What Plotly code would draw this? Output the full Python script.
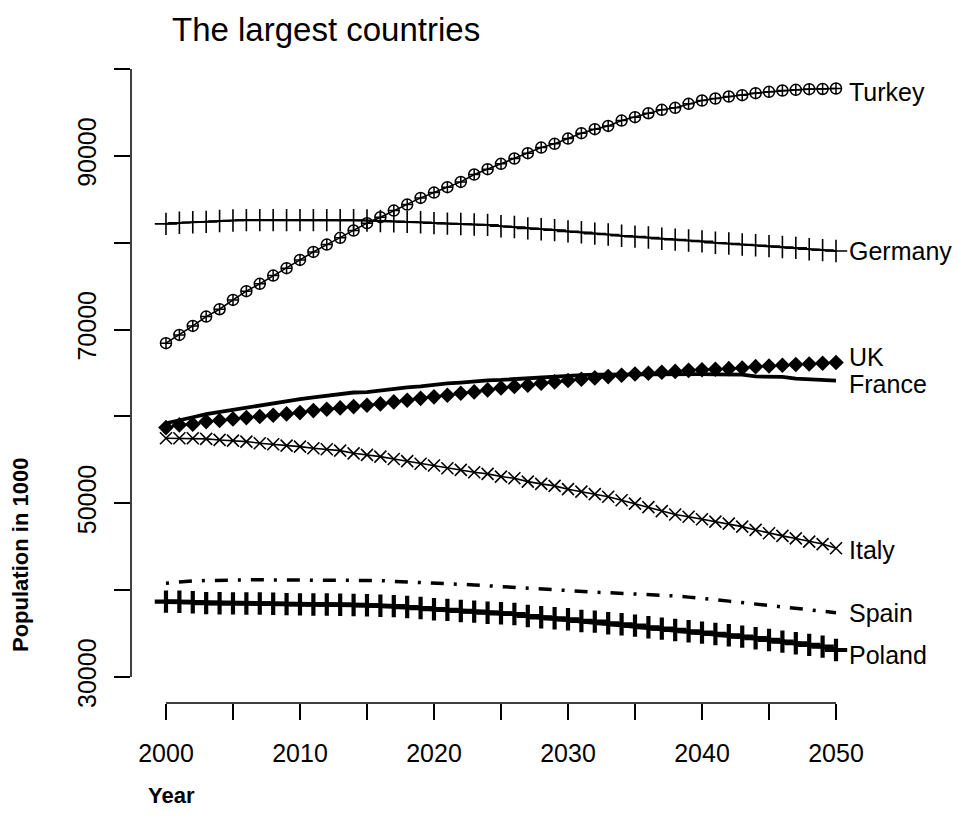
import plotly.graph_objects as go

# Population projections (thousands), 2000-2050
years = list(range(2000, 2051))

turkey = [68430, 69385, 70420, 71490, 72340, 73410, 74420, 75260, 76210, 77070,
          78020, 78940, 79780, 80560, 81400, 82250, 82940, 83700, 84390, 85160,
          85770, 86390, 87000, 87850, 88470, 89080, 89690, 90310, 90950, 91380,
          91990, 92610, 93070, 93450, 94060, 94450, 94910, 95300, 95530, 95990,
          96370, 96600, 96830, 96990, 97220, 97370, 97520, 97600, 97680, 97700, 97750]

germany = [82170, 82300, 82350, 82400, 82500, 82550, 82600, 82600, 82600, 82600,
           82600, 82600, 82600, 82600, 82600, 82550, 82500, 82450, 82400, 82350,
           82250, 82200, 82150, 82100, 82050, 81900, 81800, 81650, 81550, 81450,
           81300, 81200, 81050, 80950, 80800, 80700, 80600, 80450, 80350, 80250,
           80150, 80000, 79900, 79800, 79700, 79600, 79500, 79400, 79250, 79150, 79050]

uk = [58710, 59020, 59100, 59400, 59520, 59710, 59860, 59980, 60140, 60290,
      60440, 60670, 60830, 60980, 61130, 61290, 61440, 61670, 61860, 62080,
      62250, 62440, 62670, 62820, 63050, 63280, 63440, 63590, 63820, 63970,
      64130, 64280, 64430, 64580, 64740, 64890, 64970, 65080, 65180, 65300,
      65370, 65430, 65500, 65580, 65730, 65810, 65890, 65970, 66040, 66120, 66200]

france = [59210, 59600, 59900, 60250, 60500, 60750, 61000, 61350, 61600, 61800,
          62000, 62200, 62400, 62600, 62750, 62800, 63000, 63200, 63350, 63450,
          63650, 63800, 63900, 64050, 64150, 64200, 64300, 64400, 64500, 64650,
          64700, 64750, 64800, 64820, 64850, 64850, 64870, 64870, 64870, 64870,
          64860, 64850, 64830, 64800, 64600, 64580, 64550, 64350, 64300, 64280, 64130]

italy = [57480, 57480, 57480, 57410, 57290, 57210, 57100, 56910, 56790, 56640,
         56520, 56330, 56220, 56060, 55750, 55570, 55370, 55100, 54850, 54550,
         54350, 54030, 53840, 53570, 53380, 53070, 52880, 52490, 52230, 52000,
         51620, 51340, 51050, 50750, 50350, 49950, 49550, 49100, 48700, 48450,
         48160, 47880, 47650, 47310, 46930, 46550, 46240, 45950, 45580, 45300, 44820]

spain = [40800, 40950, 41050, 41100, 41150, 41170, 41180, 41180, 41180, 41180,
         41180, 41180, 41180, 41170, 41160, 41150, 41100, 41000, 40950, 40900,
         40800, 40750, 40680, 40600, 40500, 40400, 40300, 40180, 40080, 39980,
         39900, 39820, 39760, 39700, 39640, 39580, 39510, 39440, 39320, 39190,
         39060, 38900, 38730, 38560, 38400, 38250, 38100, 37920, 37750, 37580, 37400]

poland = [38670, 38650, 38600, 38500, 38480, 38470, 38460, 38450, 38420, 38380,
          38360, 38350, 38340, 38320, 38290, 38250, 38200, 38150, 38050, 37930,
          37800, 37720, 37600, 37520, 37400, 37330, 37250, 37020, 36870, 36750,
          36640, 36450, 36370, 36180, 36070, 35910, 35720, 35560, 35410, 35260,
          35100, 34950, 34800, 34640, 34460, 34260, 34070, 33880, 33690, 33490, 33100]

x_tickvals = list(range(2000, 2051, 5))
x_ticktext = [str(v) if v % 10 == 0 else "" for v in x_tickvals]
y_tickvals = list(range(30000, 100001, 10000))
y_ticktext = [str(v) if v in (30000, 50000, 70000, 90000) else "" for v in y_tickvals]

FONT = "Liberation Sans, Arial, sans-serif"
BLACK = "black"

# plot-area geometry in pixels (used to place the free-standing axis titles)
L, R, T, B = 131, 18, 69, 132
W, H = 958, 835
PW, PH = W - L - R, H - T - B

# name, values, line style, marker style, label vertical nudge (px)
series = [
    ("Turkey", turkey, dict(width=1.6), dict(symbol="circle-cross-open", size=11, line=dict(width=1.5, color=BLACK)), -3),
    ("Germany", germany, dict(width=2), dict(symbol="cross-thin-open", size=16, line=dict(width=1.6, color=BLACK)), 0),
    ("UK", uk, dict(width=1.6), dict(symbol="diamond", size=12, color=BLACK), 6),
    ("France", france, dict(width=3.8), None, -3),
    ("Italy", italy, dict(width=1.6), dict(symbol="x-thin-open", size=12, line=dict(width=1.6, color=BLACK)), -2),
    ("Spain", spain, dict(width=3.5, dash="3px,10px,13px,10px"), None, 0),
    ("Poland", poland, dict(width=4.5), dict(symbol="cross-thin-open", size=16, line=dict(width=4.2, color=BLACK)), -5),
]

fig = go.Figure()
annotations = []
for name, vals, line, marker, nudge in series:
    line = dict(line, color=BLACK)
    if marker is None:
        fig.add_trace(go.Scatter(x=years, y=vals, mode="lines", name=name, line=line))
    else:
        fig.add_trace(go.Scatter(x=years, y=vals, mode="lines+markers", name=name,
                                 line=line, marker=marker))
    annotations.append(dict(x=years[-1], y=vals[-1], xref="x", yref="y", text=name,
                            showarrow=False, xanchor="left", yanchor="middle",
                            xshift=11, yshift=nudge,
                            font=dict(family=FONT, size=25, color=BLACK)))

# axis titles
annotations.append(dict(text="<b>Year</b>", showarrow=False,
                        xref="paper", yref="paper",
                        x=(171 - L) / PW, y=(H - B - 795) / PH,
                        xanchor="center", yanchor="middle",
                        font=dict(family=FONT, size=22, color=BLACK)))
annotations.append(dict(text="<b>Population in 1000</b>", showarrow=False, textangle=-90,
                        xref="paper", yref="paper",
                        x=(20 - L) / PW, y=(H - B - 555) / PH,
                        xanchor="center", yanchor="middle",
                        font=dict(family=FONT, size=22, color=BLACK)))

# axis lines spanning only the tick range
shapes = [
    dict(type="line", xref="x", yref="paper", x0=2000, x1=2050, y0=0, y1=0,
         line=dict(color=BLACK, width=1.5)),
    dict(type="line", xref="paper", yref="y", x0=0, x1=0, y0=30000, y1=100000,
         line=dict(color=BLACK, width=1.5)),
]

fig.update_layout(
    width=W, height=H,
    margin=dict(l=L, r=R, t=T, b=B),
    paper_bgcolor="white", plot_bgcolor="white",
    showlegend=False,
    title=dict(text="The largest countries", x=172 / W, xanchor="left", xref="container",
               y=1 - 29 / H, yanchor="middle", yref="container",
               font=dict(family=FONT, size=33, color=BLACK)),
    annotations=annotations,
    shapes=shapes,
    xaxis=dict(range=[1997.39, 2057.76], tickvals=x_tickvals, ticktext=x_ticktext,
               ticks="outside", ticklen=16, tickwidth=1.5, tickcolor=BLACK,
               showgrid=False, zeroline=False, showline=False,
               tickfont=dict(family=FONT, size=25, color=BLACK), ticklabelstandoff=12),
    yaxis=dict(range=[27000, 100000], tickvals=y_tickvals, ticktext=y_ticktext,
               ticks="outside", ticklen=16, tickwidth=1.5, tickcolor=BLACK,
               showgrid=False, zeroline=False, showline=False, tickangle=-90,
               tickfont=dict(family=FONT, size=25, color=BLACK), ticklabelstandoff=8),
)

fig.write_html("out.html")
